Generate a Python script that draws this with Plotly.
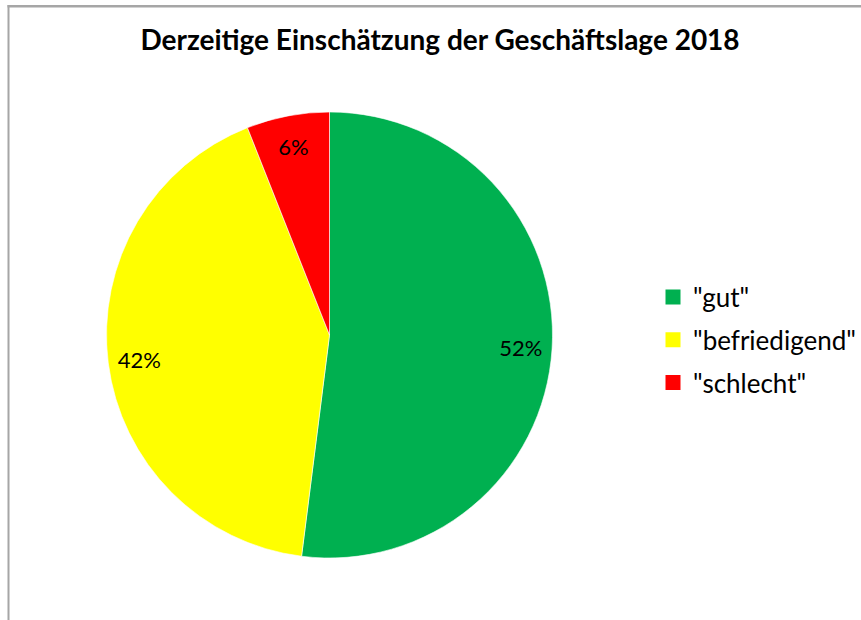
import plotly.graph_objects as go

categories = ['"gut"', '"befriedigend"', '"schlecht"']
values = [52, 42, 6]
colors = ["#00B050", "#FFFF00", "#FF0000"]
title_text = "Derzeitige Einschätzung der Geschäftslage 2018"

W, H = 861, 620
FONT = "Lato"
pie_domain = dict(x=[106 / W, 553 / W], y=[1 - 558 / H, 1 - 112 / H])

fig = go.Figure()
# the filled pie
fig.add_trace(go.Pie(
    labels=categories, values=values, sort=False,
    direction="clockwise", rotation=0,
    marker=dict(colors=colors, line=dict(color="white", width=0.6)),
    textinfo="none", hoverinfo="label+percent",
    showlegend=False, domain=pie_domain,
))
# transparent ring on top: carries the percentage labels near the rim
fig.add_trace(go.Pie(
    labels=categories, values=values, sort=False,
    direction="clockwise", rotation=0, hole=0.72,
    marker=dict(colors=["rgba(0,0,0,0)"] * len(values), line=dict(width=0)),
    texttemplate="%{percent:.0%}", textposition="inside",
    insidetextorientation="horizontal",
    textfont=dict(family=FONT, size=22, color="black"),
    hoverinfo="skip", showlegend=False, domain=pie_domain,
))

# legend entries (one per category) to control vertical spacing
for cat, col in zip(categories, colors):
    fig.add_trace(go.Scatter(
        x=[None], y=[None], mode="markers", name=cat,
        marker=dict(symbol="square", size=15, color=col),
        legendgroup=cat, showlegend=True, hoverinfo="skip",
    ))

BORDER = "#A6A6A6"
fig.update_layout(
    width=W, height=H,
    margin=dict(l=0, r=0, t=0, b=0),
    paper_bgcolor="white", plot_bgcolor="white",
    xaxis=dict(visible=False), yaxis=dict(visible=False),
    title=dict(text="<b>" + title_text + "</b>", x=440 / W, xanchor="center",
               y=1 - 40 / H, yanchor="middle",
               font=dict(family=FONT, size=28, color="black")),
    legend=dict(x=653 / W, xanchor="left", y=1 - 340 / H, yanchor="middle",
                font=dict(family=FONT, size=26, color="black"),
                tracegroupgap=6, itemsizing="trace", bgcolor="rgba(0,0,0,0)"),
    shapes=[
        dict(type="rect", xref="paper", yref="paper",
             x0=7.5 / W, x1=1.0, y0=1 - 7.5 / H, y1=1 - 5 / H,
             fillcolor=BORDER, line=dict(width=0), layer="above"),
        dict(type="rect", xref="paper", yref="paper",
             x0=7.5 / W, x1=9.5 / W, y0=0.0, y1=1 - 5 / H,
             fillcolor=BORDER, line=dict(width=0), layer="above"),
    ],
)

fig.write_html("out.html", config={"displayModeBar": False},
               post_script="document.body.style.margin='0';document.body.style.overflow='hidden';")
